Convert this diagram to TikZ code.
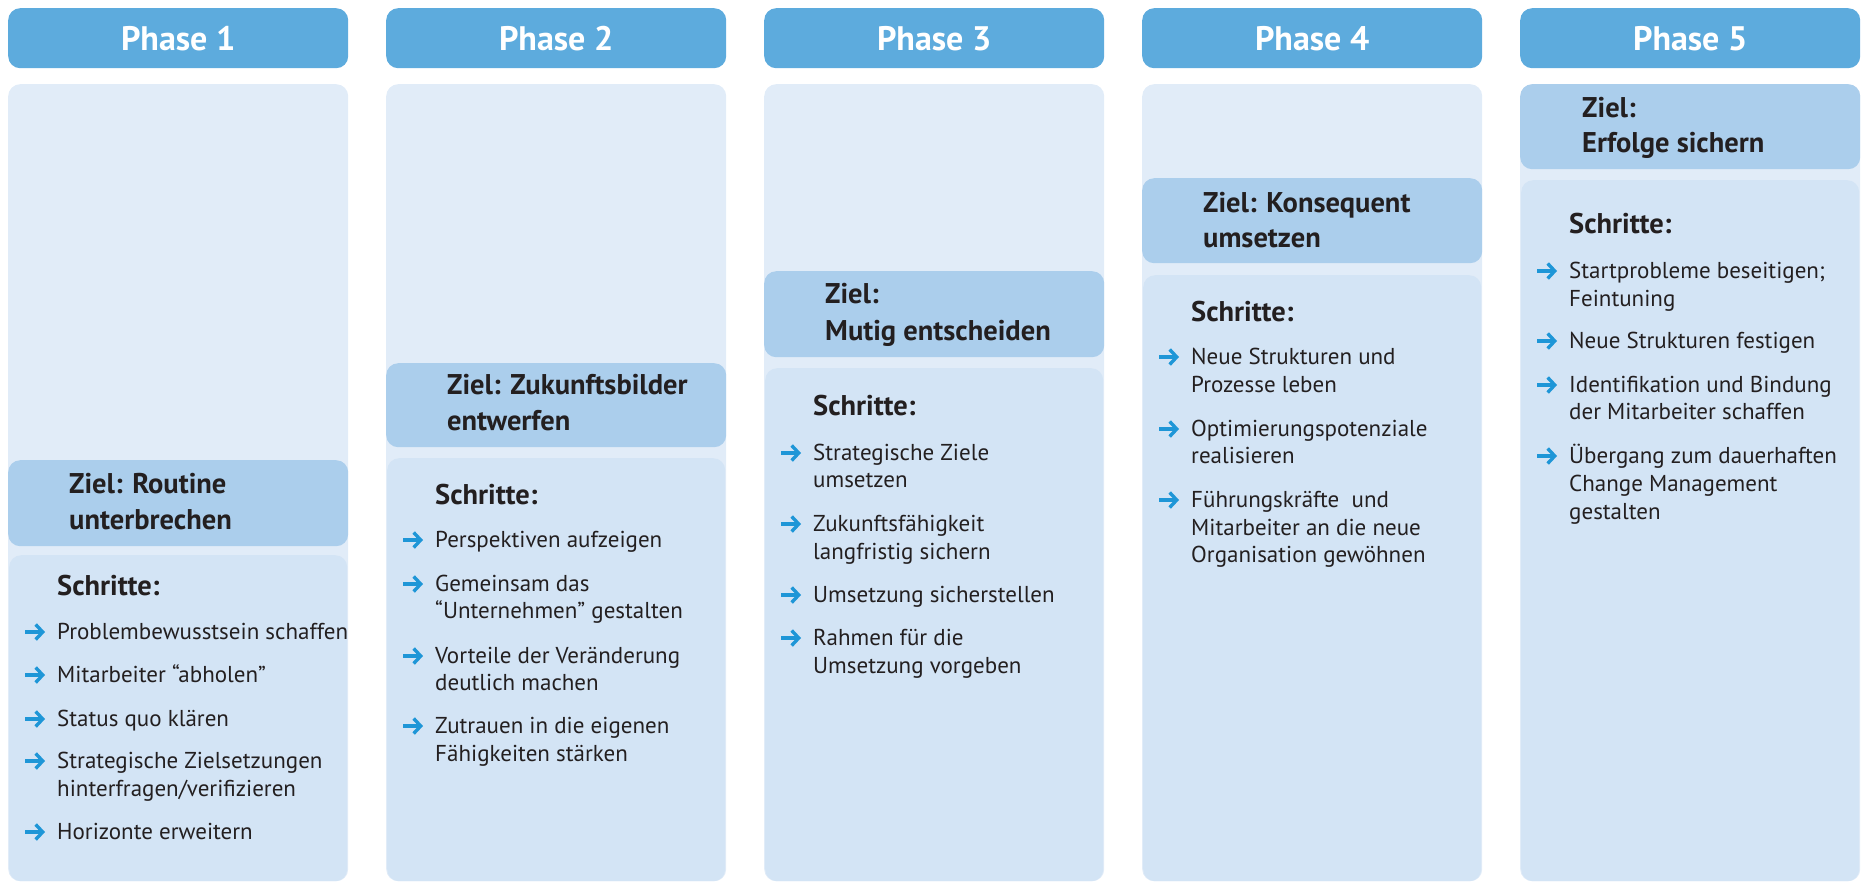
\documentclass[tikz,border=0pt]{standalone}
\usepackage{fontspec}
\setmainfont{PT Sans}
\usetikzlibrary{arrows.meta}
\definecolor{hdr}{RGB}{93,171,221}
\definecolor{colbg}{RGB}{225,236,248}
\definecolor{zielc}{RGB}{171,206,236}
\definecolor{schrc}{RGB}{211,228,245}
\definecolor{txt}{RGB}{35,31,32}
\definecolor{arrc}{RGB}{30,150,215}
\tikzset{
  hdrbox/.style={fill=hdr, rounded corners=12pt, minimum width=340pt, minimum height=60pt, inner sep=0pt, anchor=north west, text=white, font=\bfseries\fontsize{34}{40}\selectfont},
  colbox/.style={fill=colbg, rounded corners=12pt, minimum width=340pt, minimum height=797pt, inner sep=0pt, anchor=north west},
  zielbox/.style={fill=zielc, rounded corners=12pt, minimum width=340pt, inner sep=0pt, anchor=north west},
  schrbox/.style={fill=schrc, rounded corners=12pt, minimum width=338pt, inner sep=0pt, anchor=north west},
  zieltxt/.style={anchor=base west, inner sep=0pt, text=txt, font=\bfseries\fontsize{28.5}{34}\selectfont},
  sttxt/.style={anchor=base west, inner sep=0pt, text=txt, font=\fontsize{23}{28}\selectfont},
  arr/.style={draw=arrc, line width=3.4pt, -{Straight Barb[length=7pt,width=15pt]}}
}
\newcommand\bul[2]{\draw[arr] (#1+17,#2-7) -- ++(20,0);}
\begin{document}
\begin{tikzpicture}[x=1pt,y=-1pt]
\useasboundingbox (0,0) rectangle (1867,881);
\clip (0,0) rectangle (1867,881);
% ---------- boxes ----------
\foreach \i/\L/\zt/\zb/\st in {1/8/460/546/555, 2/386/363/447/458, 3/764/271/357/368, 4/1142/178/263/275, 5/1520/84/169/180}{
  \node[colbox] (col\i) at (\L,84) {};
  \node[hdrbox] (hdr\i) at (\L,8) {Phase \i};
  \node[zielbox, minimum height=\zb-\zt] (ziel\i) at (\L,\zt) {};
  \node[schrbox, minimum height=881-\st] (schr\i) at (\L+1,\st) {};
}
% ---------- Phase 1 ----------
\node[zieltxt] (z1a) at (69,493) {Ziel: Routine};
\node[zieltxt] (z1b) at (69,529) {unterbrechen};
\node[zieltxt] (s1) at (57,595) {Schritte:};
\bul{8}{639}\node[sttxt] (t1a) at (57,639) {Problembewusstsein schaffen};
\bul{8}{682}\node[sttxt] (t1b) at (57,682) {Mitarbeiter “abholen”};
\bul{8}{726}\node[sttxt] (t1c) at (57,726) {Status quo klären};
\bul{8}{768}\node[sttxt] (t1d) at (57,768) {Strategische Zielsetzungen};
\node[sttxt] (t1e) at (57,796) {hinterfragen/verifizieren};
\bul{8}{839}\node[sttxt] (t1f) at (57,839) {Horizonte erweitern};
% ---------- Phase 2 ----------
\node[zieltxt] (z2a) at (447,394) {Ziel: Zukunftsbilder};
\node[zieltxt] (z2b) at (447,430) {entwerfen};
\node[zieltxt] (s2) at (435,504) {Schritte:};
\bul{386}{547}\node[sttxt] (t2a) at (435,547) {Perspektiven aufzeigen};
\bul{386}{591}\node[sttxt] (t2b) at (435,591) {Gemeinsam das};
\node[sttxt] (t2c) at (435,618) {“Unternehmen” gestalten};
\bul{386}{663}\node[sttxt] (t2d) at (435,663) {Vorteile der Veränderung};
\node[sttxt] (t2e) at (435,690) {deutlich machen};
\bul{386}{733}\node[sttxt] (t2f) at (435,733) {Zutrauen in die eigenen};
\node[sttxt] (t2g) at (435,761) {Fähigkeiten stärken};
% ---------- Phase 3 ----------
\node[zieltxt] (z3a) at (825,303) {Ziel:};
\node[zieltxt] (z3b) at (825,340) {Mutig entscheiden};
\node[zieltxt] (s3) at (813,415) {Schritte:};
\bul{764}{460}\node[sttxt] (t3a) at (813,460) {Strategische Ziele};
\node[sttxt] (t3b) at (813,487) {umsetzen};
\bul{764}{531}\node[sttxt] (t3c) at (813,531) {Zukunftsfähigkeit};
\node[sttxt] (t3d) at (813,559) {langfristig sichern};
\bul{764}{602}\node[sttxt] (t3e) at (813,602) {Umsetzung sicherstellen};
\bul{764}{645}\node[sttxt] (t3f) at (813,645) {Rahmen für die};
\node[sttxt] (t3g) at (813,673) {Umsetzung vorgeben};
% ---------- Phase 4 ----------
\node[zieltxt] (z4a) at (1203,212) {Ziel: Konsequent};
\node[zieltxt] (z4b) at (1203,247) {umsetzen};
\node[zieltxt] (s4) at (1191,321) {Schritte:};
\bul{1142}{364}\node[sttxt] (t4a) at (1191,364) {Neue Strukturen und};
\node[sttxt] (t4b) at (1191,392) {Prozesse leben};
\bul{1142}{436}\node[sttxt] (t4c) at (1191,436) {Optimierungspotenziale};
\node[sttxt] (t4d) at (1191,463) {realisieren};
\bul{1142}{507}\node[sttxt] (t4e) at (1191,507) {Führungskräfte~ und};
\node[sttxt] (t4f) at (1191,535) {Mitarbeiter an die neue};
\node[sttxt] (t4g) at (1191,562) {Organisation gewöhnen};
% ---------- Phase 5 ----------
\node[zieltxt] (z5a) at (1582,117) {Ziel:};
\node[zieltxt] (z5b) at (1582,152) {Erfolge sichern};
\node[zieltxt] (s5) at (1569,233) {Schritte:};
\bul{1520}{278}\node[sttxt] (t5a) at (1569,278) {Startprobleme beseitigen;};
\node[sttxt] (t5b) at (1569,306) {Feintuning};
\bul{1520}{348}\node[sttxt] (t5c) at (1569,348) {Neue Strukturen festigen};
\bul{1520}{392}\node[sttxt] (t5d) at (1569,392) {Identifikation und Bindung};
\node[sttxt] (t5e) at (1569,419) {der Mitarbeiter schaffen};
\bul{1520}{463}\node[sttxt] (t5f) at (1569,463) {Übergang zum dauerhaften};
\node[sttxt] (t5g) at (1569,491) {Change Management};
\node[sttxt] (t5h) at (1569,519) {gestalten};
\end{tikzpicture}
\end{document}
